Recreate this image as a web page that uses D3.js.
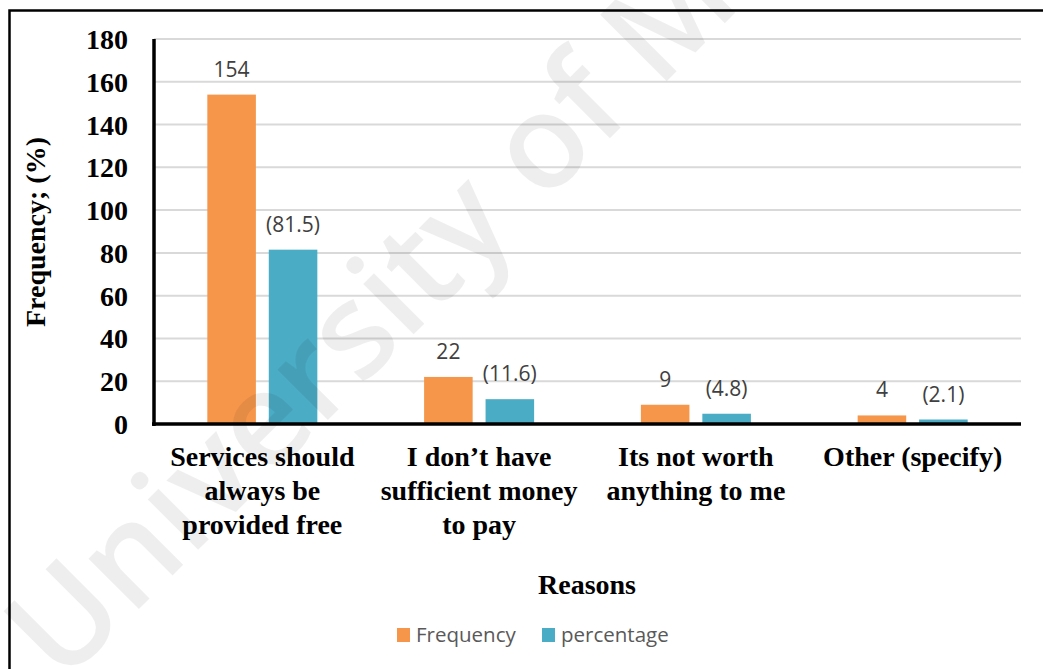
<!DOCTYPE html>
<html>
<head>
<meta charset="utf-8">
<script src="https://cdn.jsdelivr.net/npm/d3@7"></script>
<style>
  html, body { margin: 0; padding: 0; background: #fff; }
  svg { display: block; }
</style>
</head>
<body>
<svg id="chart" width="1043" height="669"></svg>
<script>
// Reasons given (category labels, split into lines)
const categories = [
  ["Services should", "always be", "provided free"],
  ["I don\u2019t have", "sufficient money", "to pay"],
  ["Its not worth", "anything to me"],
  ["Other (specify)"]
];
const frequency = [154, 22, 9, 4];
const percentage = [81.5, 11.6, 4.8, 2.1];
const seriesNames = ["Frequency", "percentage"];
const seriesColors = ["#F5964A", "#4AACC5"];
const yTicks = [0, 20, 40, 60, 80, 100, 120, 140, 160, 180];
const pctLabels = ["(81.5)", "(11.6)", "(4.8)", "(2.1)"];

const svg = d3.select("#chart");
const plot = { left: 154, right: 1021, top: 39, bottom: 424 };

const catKeys = categories.map(c => c.join(" "));
const x0 = d3.scaleBand()
  .domain(catKeys)
  .range([plot.left, plot.right])
  .paddingInner(0.4925)
  .paddingOuter(0.246);
const x1 = d3.scaleBand()
  .domain(seriesNames)
  .range([0, x0.bandwidth()])
  .paddingInner(0.21);
const y = d3.scaleLinear().domain([0, 180]).range([plot.bottom, plot.top]);

// outer frame
svg.append("rect")
  .attr("x", 9.5).attr("y", 10.5)
  .attr("width", 1100).attr("height", 700)
  .attr("fill", "none").attr("stroke", "#000").attr("stroke-width", 2.5);

// horizontal gridlines
svg.append("g")
  .selectAll("line")
  .data(yTicks.filter(t => t > 0))
  .join("line")
  .attr("x1", plot.left).attr("x2", plot.right)
  .attr("y1", d => y(d)).attr("y2", d => y(d))
  .attr("stroke", "#d9d9d9").attr("stroke-width", 2);

// y axis tick labels
const yAxis = d3.axisLeft(y).tickValues(yTicks).tickSize(0).tickPadding(26);
const gy = svg.append("g")
  .attr("transform", `translate(${plot.left},0)`)
  .call(yAxis);
gy.select(".domain").remove();
gy.selectAll("text")
  .attr("font-family", "'Liberation Serif', 'Times New Roman', serif")
  .attr("font-weight", "bold")
  .attr("font-size", 28)
  .attr("fill", "#000")
  .attr("dy", "0.34em");

// bars
const rows = catKeys.map((k, i) => ({ key: k, values: [frequency[i], percentage[i]] }));
const groups = svg.append("g")
  .selectAll("g")
  .data(rows)
  .join("g")
  .attr("transform", d => `translate(${x0(d.key)},0)`);

groups.selectAll("rect")
  .data(d => d.values.map((v, j) => ({ series: seriesNames[j], value: v, j })))
  .join("rect")
  .attr("x", d => x1(d.series))
  .attr("width", x1.bandwidth())
  .attr("y", d => y(d.value))
  .attr("height", d => plot.bottom - y(d.value))
  .attr("fill", d => seriesColors[d.j]);

// data labels
groups.selectAll("text.val")
  .data((d, i) => d.values.map((v, j) => ({
    series: seriesNames[j], value: v,
    label: j === 0 ? String(frequency[i]) : pctLabels[i]
  })))
  .join("text")
  .attr("class", "val")
  .attr("x", d => x1(d.series) + x1.bandwidth() / 2)
  .attr("y", d => y(d.value) - 18)
  .attr("text-anchor", "middle")
  .attr("font-family", "'Open Sans', sans-serif")
  .attr("font-size", 21)
  .attr("fill", "#404040")
  .text(d => d.label);

// axis lines
svg.append("line")
  .attr("x1", plot.left).attr("x2", plot.left)
  .attr("y1", plot.top).attr("y2", plot.bottom + 2)
  .attr("stroke", "#000").attr("stroke-width", 3.5);
svg.append("line")
  .attr("x1", plot.left - 2).attr("x2", plot.right)
  .attr("y1", plot.bottom).attr("y2", plot.bottom)
  .attr("stroke", "#000").attr("stroke-width", 3.5);

// category labels
const catLabels = svg.append("g")
  .selectAll("text")
  .data(categories)
  .join("text")
  .attr("x", (d, i) => x0(catKeys[i]) + x0.bandwidth() / 2)
  .attr("y", 466)
  .attr("text-anchor", "middle")
  .attr("font-family", "'Liberation Serif', 'Times New Roman', serif")
  .attr("font-weight", "bold")
  .attr("font-size", 28)
  .attr("fill", "#000");
catLabels.selectAll("tspan")
  .data(d => d)
  .join("tspan")
  .attr("x", function () { return d3.select(this.parentNode).attr("x"); })
  .attr("dy", (d, i) => i === 0 ? 0 : 34)
  .text(d => d);

// axis titles
svg.append("text")
  .attr("transform", "translate(45,232) rotate(-90)")
  .attr("text-anchor", "middle")
  .attr("font-family", "'Liberation Serif', 'Times New Roman', serif")
  .attr("font-weight", "bold")
  .attr("font-size", 28)
  .attr("fill", "#000")
  .text("Frequency; (%)");

svg.append("text")
  .attr("x", 587).attr("y", 594)
  .attr("text-anchor", "middle")
  .attr("font-family", "'Liberation Serif', 'Times New Roman', serif")
  .attr("font-weight", "bold")
  .attr("font-size", 28)
  .attr("fill", "#000")
  .text("Reasons");

// legend
const legendX = [397, 542];
const legend = svg.append("g")
  .selectAll("g")
  .data(seriesNames)
  .join("g")
  .attr("transform", (d, i) => `translate(${legendX[i]},628)`);
legend.append("rect")
  .attr("width", 13).attr("height", 14)
  .attr("fill", (d, i) => seriesColors[i]);
legend.append("text")
  .attr("x", 19).attr("y", 14)
  .attr("font-family", "'Open Sans', sans-serif")
  .attr("font-size", 20.5)
  .attr("fill", "#595959")
  .text(d => d);

// faint diagonal watermark
svg.append("text")
  .attr("transform", "translate(62,686) rotate(-45)")
  .attr("font-family", "'Open Sans', sans-serif")
  .attr("font-weight", 600)
  .attr("font-size", 132)
  .attr("fill", "#000")
  .attr("fill-opacity", 0.065)
  .text("University of M");
</script>
</body>
</html>
